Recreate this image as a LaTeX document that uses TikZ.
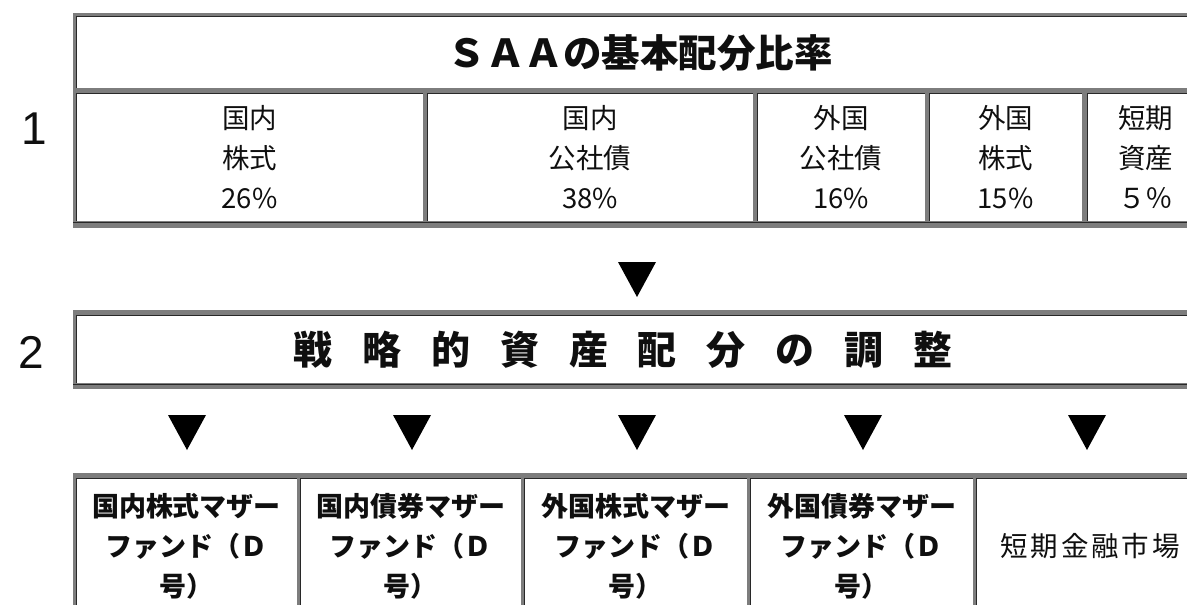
\documentclass[tikz,border=0pt]{standalone}
\usepackage{fontspec}
\setmainfont{Liberation Sans}
\newfontfamily\jp{Noto Sans CJK JP}
\definecolor{band}{RGB}{125,125,125}
\definecolor{dk}{RGB}{40,40,40}
\definecolor{ink}{RGB}{15,15,15}
\newcommand\cbx[2]{\makebox[#1]{#2}}
% cell: name, x1, y1, x2, y2, text-style, text
\newcommand\mycell[7]{%
  \node[cellbox,#6,minimum width={(#4-#2)*1pt},minimum height={(#5-#3)*1pt}]
     (#1) at ({(#2+#4)/2},{(#3+#5)/2}) {#7};
  \draw[inset] ([xshift=0.8pt]#1.south west) -- ([xshift=0.8pt,yshift=-0.8pt]#1.north west)
     -- ([yshift=-0.8pt]#1.north east);
}
\begin{document}
\begin{tikzpicture}[x=1pt,y=-1pt,
  cellbox/.style={fill=white,inner sep=0pt,align=center,text=ink},
  inset/.style={draw=dk,line width=1.6pt},
  outerband/.style={fill=band},
  small/.style={font=\jp\fontsize{27.5}{40}\selectfont},
  smallb/.style={font=\jp\bfseries\fontsize{27}{40}\selectfont},
  big/.style={font=\jp\bfseries\fontsize{38.5}{42}\selectfont,text=ink},
  numlabel/.style={font=\fontsize{46}{48}\selectfont,text=ink,inner sep=0pt},
  downtri/.pic={\fill[black] (-19,0) -- (19,0) -- (0,35) -- cycle;}
]
\useasboundingbox (0,0) rectangle (1187,605);
\fill[white] (0,0) rectangle (1187,605);
\clip (0,0) rectangle (1187,605);

% ---------- table 1 ----------
\fill[outerband] (73,13) rectangle (1210,228);
\mycell{hdr}{76}{16}{1207}{88}{}{}
\node[big] (title) at (640,53) {ＳＡＡの基本配分比率};
\mycell{a1}{76}{93}{423}{221}{small}{国内\\株式\\26\%}
\mycell{a2}{427}{93}{753}{221}{small}{国内\\公社債\\38\%}
\mycell{a3}{757}{93}{925}{221}{small}{外国\\公社債\\16\%}
\mycell{a4}{929}{93}{1082}{221}{small}{外国\\株式\\15\%}
\mycell{a5}{1087}{93}{1204}{221}{small}{短期\\資産\\５％}
\draw[dk,line width=1.4pt] (73,222.5) -- (1210,222.5);

\node[numlabel] (n1) at (34,129) {1};

% ---------- arrow 1 ----------
\pic at (637,262) {downtri};

% ---------- box 2 ----------
\fill[outerband] (73,310) rectangle (1210,389);
\mycell{adj}{76}{315}{1207}{383}{}{}
\draw[dk,line width=1.4pt] (73,384.5) -- (1210,384.5);
\node[big,font=\jp\bfseries\fontsize{39}{42}\selectfont] (adjtxt) at (623,350)
  {\cbx{68.8pt}{戦}\cbx{68.8pt}{略}\cbx{68.8pt}{的}\cbx{68.8pt}{資}\cbx{68.8pt}{産}\cbx{68.8pt}{配}\cbx{68.8pt}{分}\cbx{68.8pt}{の}\cbx{68.8pt}{調}\cbx{68.8pt}{整}};
\node[numlabel] (n2) at (31,352) {2};

% ---------- arrows 2 ----------
\foreach \xx in {187,412,637,863,1087} {\pic at (\xx,415) {downtri};}

% ---------- table 3 ----------
\fill[outerband] (73,473) rectangle (1210,640);
\mycell{b1}{76}{478}{297}{614}{smallb}{国内株式マザー\\ファンド（Ｄ\\号）}
\mycell{b2}{300}{478}{521}{614}{smallb}{国内債券マザー\\ファンド（Ｄ\\号）}
\mycell{b3}{524}{478}{747}{614}{smallb}{外国株式マザー\\ファンド（Ｄ\\号）}
\mycell{b4}{750}{478}{973}{614}{smallb}{外国債券マザー\\ファンド（Ｄ\\号）}
\mycell{b5}{976}{478}{1204}{614}{small}{\cbx{30.5pt}{短}\cbx{30.5pt}{期}\cbx{30.5pt}{金}\cbx{30.5pt}{融}\cbx{30.5pt}{市}\cbx{30.5pt}{場}}
\end{tikzpicture}
\end{document}
